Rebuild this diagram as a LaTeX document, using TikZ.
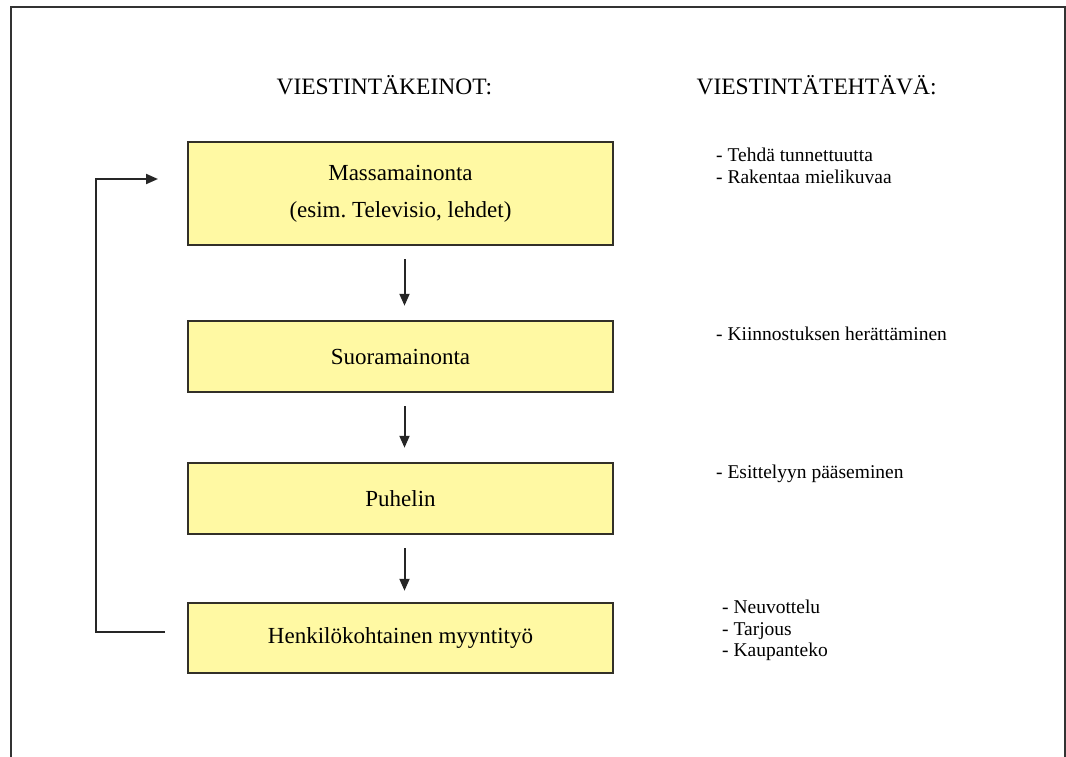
\documentclass[tikz,border=0pt]{standalone}
\usepackage{fontspec}
\setmainfont{Liberation Serif}
\usetikzlibrary{arrows.meta}
\definecolor{boxfill}{RGB}{255,249,163}
\definecolor{boxline}{RGB}{50,48,40}
\frenchspacing
\tikzset{
  stepbox/.style={draw=boxline, line width=2.5pt, fill=boxfill, minimum width=425pt, inner sep=0pt, align=center, font=\fontsize{23}{37}\selectfont},
  head/.style={font=\fontsize{23.5}{28}\selectfont, anchor=west},
  task/.style={font=\fontsize{19.5}{21.5}\selectfont, anchor=north west, align=left, inner sep=0pt},
  flow/.style={line width=2pt, draw=black!85, -{Triangle[length=12pt,width=10pt]}},
}
\begin{document}
\begin{tikzpicture}[x=1pt,y=-1pt]
\useasboundingbox (0,0) rectangle (1066,756);
\draw[line width=2.2pt, draw=black!80] (11,7) rectangle (1065,780);
% headers
\node[head] (h1) at (273,85) {VIESTINTÄKEINOT:};
\node[head] (h2) at (693,85) {VIESTINTÄTEHTÄVÄ:};
% boxes
\node[stepbox, minimum height=103pt] (b1) at (400.5,193.5) {Massamainonta\\(esim. Televisio, lehdet)};
\node[stepbox, minimum height=71pt] (b2) at (400.5,356.5) {Suoramainonta};
\node[stepbox, minimum height=71pt] (b3) at (400.5,498.5) {Puhelin};
\node[stepbox, minimum height=70pt] (b4) at (400.5,638) {Henkilökohtainen myyntityö};
% arrows between boxes
\draw[flow] ([xshift=4pt,yshift=-13pt]b1.south) -- ([xshift=4pt,yshift=14pt]b2.north);
\draw[flow] ([xshift=4pt,yshift=-13pt]b2.south) -- ([xshift=4pt,yshift=14pt]b3.north);
\draw[flow] ([xshift=4pt,yshift=-13pt]b3.south) -- ([xshift=4pt,yshift=11pt]b4.north);
% loop back
\coordinate (l1) at (165,632);
\coordinate (l2) at (96,632);
\coordinate (l3) at (96,179);
\coordinate (l4) at (158,179);
\draw[flow] (l1) -- (l2) -- (l3) -- (l4);
% tasks
\node[task] (t1) at (716,148) {- Tehdä tunnettuutta\\- Rakentaa mielikuvaa};
\node[task] (t2) at (716,327) {- Kiinnostuksen herättäminen};
\node[task] (t3) at (716,465) {- Esittelyyn pääseminen};
\node[task] (t4) at (722,600) {- Neuvottelu\\- Tarjous\\- Kaupanteko};
\end{tikzpicture}
\end{document}
